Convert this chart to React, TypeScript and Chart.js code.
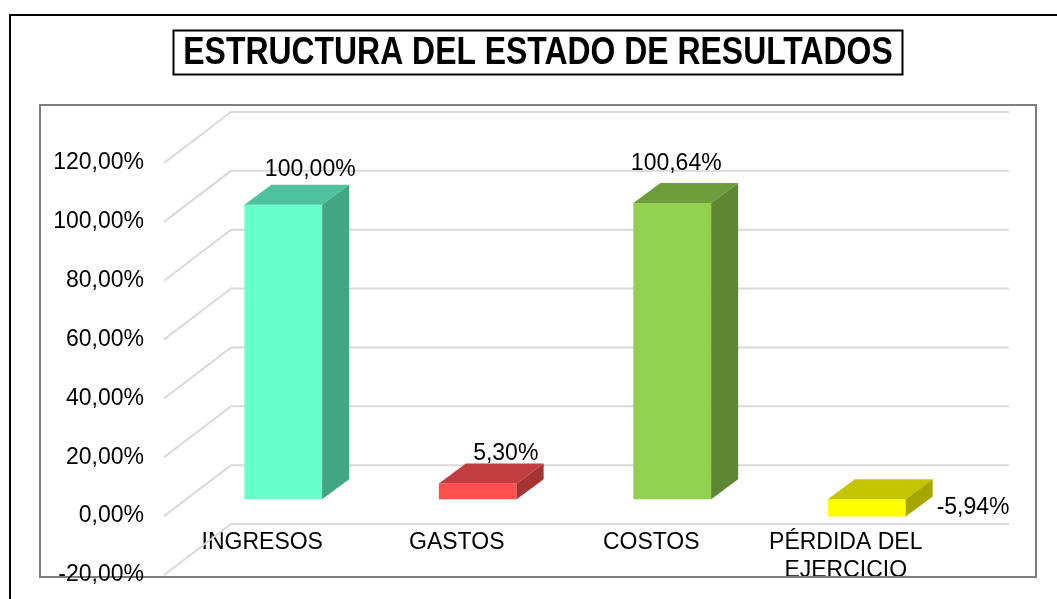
import React, { useEffect, useRef } from 'react';
import { Chart, registerables } from 'chart.js';

Chart.register(...registerables);

// ---- data ----
const categories: (string | string[])[] = ['INGRESOS', 'GASTOS', 'COSTOS', ['PÉRDIDA DEL', 'EJERCICIO']];
const values: number[] = [100.0, 5.3, 100.64, -5.94];
const yMin = -20;
const yMax = 120;
const yStep = 20;
const titleText = 'ESTRUCTURA DEL ESTADO DE RESULTADOS';

// ---- styles ----
const frontColors = ['#66FFCC', '#FF5050', '#92D050', '#FFFF00'];
const topColors = ['#4DC29C', '#C23D3D', '#6E9E3C', '#C4C400'];
const sideColors = ['#42A684', '#A33434', '#5E8733', '#A6A600'];
const labelOffsets: ([number, number] | null)[] = [[27, -35], [28, -30], [4, -39], null];

const FONT = "'Liberation Sans', Arial, sans-serif";
const FS = 23;
const DEPTH_X = 27;
const DEPTH_Y = -20;
const WALL_X = 45;
const WALL_Y = -34;
const FRONT_X = -22;
const FRONT_Y = 17;
const TITLE_SCALE = 0.84;

const fmt = (v: number) => v.toFixed(2).replace('.', ',') + '%';

const decoPlugin = {
  id: 'deco3d',
  beforeDraw(chart: any) {
    const ctx = chart.ctx;
    ctx.save();
    ctx.strokeStyle = '#000';
    ctx.lineWidth = 2;
    ctx.beginPath();
    ctx.moveTo(10, 610);
    ctx.lineTo(10, 15);
    ctx.lineTo(1070, 15);
    ctx.stroke();
    ctx.strokeStyle = '#7F7F7F';
    ctx.lineWidth = 2;
    ctx.strokeRect(40, 105, 996, 472);
    const cx = 538;
    ctx.font = 'bold 38px ' + FONT;
    const w = ctx.measureText(titleText).width * TITLE_SCALE;
    ctx.fillStyle = '#000';
    ctx.textAlign = 'center';
    ctx.textBaseline = 'middle';
    ctx.save();
    ctx.translate(cx, 53.5);
    ctx.scale(TITLE_SCALE, 1);
    ctx.fillText(titleText, 0, 0);
    ctx.restore();
    ctx.strokeStyle = '#000';
    ctx.lineWidth = 2;
    ctx.strokeRect(Math.round(cx - w / 2 - 10) + 0.5, 30.5, Math.round(w + 20), 44);
    ctx.restore();
  },
  beforeDatasetsDraw(chart: any) {
    const { ctx, chartArea: a } = chart;
    const y = chart.scales.y;
    ctx.save();
    ctx.strokeStyle = '#D9D9D9';
    ctx.lineWidth = 2;
    y.ticks.forEach((t: any) => {
      const py = y.getPixelForValue(t.value);
      ctx.beginPath();
      ctx.moveTo(a.left + FRONT_X, py + FRONT_Y);
      ctx.lineTo(a.left + WALL_X, py + WALL_Y);
      ctx.lineTo(a.right + WALL_X, py + WALL_Y);
      ctx.stroke();
    });
    ctx.restore();
  },
  afterDatasetsDraw(chart: any) {
    const ctx = chart.ctx;
    const meta = chart.getDatasetMeta(0);
    ctx.save();
    meta.data.forEach((el: any, i: number) => {
      const p = el.getProps(['x', 'y', 'base', 'width'], true);
      const l = p.x - p.width / 2;
      const r = p.x + p.width / 2;
      const top = Math.min(p.y, p.base);
      const bot = Math.max(p.y, p.base);
      ctx.fillStyle = topColors[i];
      ctx.beginPath();
      ctx.moveTo(l, top);
      ctx.lineTo(l + DEPTH_X, top + DEPTH_Y);
      ctx.lineTo(r + DEPTH_X, top + DEPTH_Y);
      ctx.lineTo(r, top);
      ctx.closePath();
      ctx.fill();
      ctx.fillStyle = sideColors[i];
      ctx.beginPath();
      ctx.moveTo(r, top);
      ctx.lineTo(r + DEPTH_X, top + DEPTH_Y);
      ctx.lineTo(r + DEPTH_X, bot + DEPTH_Y);
      ctx.lineTo(r, bot);
      ctx.closePath();
      ctx.fill();
      ctx.fillStyle = '#000';
      ctx.font = FS + 'px ' + FONT;
      ctx.textBaseline = 'middle';
      const v = values[i];
      const off = labelOffsets[i];
      if (v >= 0 && off) {
        ctx.textAlign = 'center';
        ctx.fillText(fmt(v), p.x + off[0], top + off[1]);
      } else {
        ctx.textAlign = 'left';
        ctx.fillText(fmt(v), r + DEPTH_X + 4, (top + bot) / 2);
      }
    });
    ctx.restore();
  },
  afterDraw(chart: any) {
    const ctx = chart.ctx;
    ctx.save();
    ctx.fillStyle = '#fff';
    ctx.fillRect(700, 576, 335, 23);
    ctx.strokeStyle = '#7F7F7F';
    ctx.lineWidth = 2;
    ctx.beginPath();
    ctx.moveTo(700, 577);
    ctx.lineTo(1036, 577);
    ctx.lineTo(1036, 560);
    ctx.stroke();
    ctx.restore();
  },
};

export default function App() {
  const ref = useRef<HTMLCanvasElement | null>(null);
  useEffect(() => {
    if (!ref.current) return;
    Chart.defaults.font.family = FONT;
    const chart = new Chart(ref.current, {
      type: 'bar',
      data: {
        labels: categories as any,
        datasets: [
          {
            data: values,
            backgroundColor: frontColors,
            borderWidth: 0,
            barPercentage: 0.4,
            categoryPercentage: 1,
          },
        ],
      },
      options: {
        animation: false,
        responsive: false,
        layout: { padding: { left: 19, right: 0, top: 146, bottom: 41 } },
        plugins: {
          legend: { display: false },
          tooltip: { enabled: false },
          title: { display: false, text: titleText },
        },
        scales: {
          x: {
            type: 'category',
            position: { y: 0 } as any,
            grid: { display: false, drawTicks: false },
            border: { display: false },
            ticks: {
              color: '#000',
              font: { size: FS, lineHeight: 1.22 },
              padding: 29,
              labelOffset: -21,
              maxRotation: 0,
              minRotation: 0,
              autoSkip: false,
            },
            afterFit: (s: any) => {
              s.height = 0;
              s.paddingTop = 0;
              s.paddingBottom = 0;
              s.paddingLeft = 0;
              s.paddingRight = 0;
            },
          },
          y: {
            type: 'linear',
            position: 'left',
            min: yMin,
            max: yMax,
            grid: { display: false, drawTicks: false },
            border: { display: false },
            ticks: {
              stepSize: yStep,
              color: '#000',
              font: { size: FS },
              padding: 42,
              labelOffset: 17,
              callback: (v: any) => fmt(Number(v)),
            },
            afterFit: (s: any) => {
              s.width = 167;
              s.paddingTop = 0;
              s.paddingBottom = 0;
            },
          },
          y2: {
            type: 'linear',
            position: 'right',
            display: true,
            grid: { display: false, drawTicks: false },
            border: { display: false },
            ticks: { display: false },
            afterFit: (s: any) => {
              s.width = 93;
              s.paddingTop = 0;
              s.paddingBottom = 0;
            },
          },
        },
      },
      plugins: [decoPlugin],
    });
    return () => chart.destroy();
  }, []);
  return (
    <div style={{ position: 'absolute', left: 0, top: 0, width: 1057, height: 599, overflow: 'hidden' }}>
      <canvas ref={ref} width={1057} height={599} style={{ display: 'block' }} />
    </div>
  );
}
